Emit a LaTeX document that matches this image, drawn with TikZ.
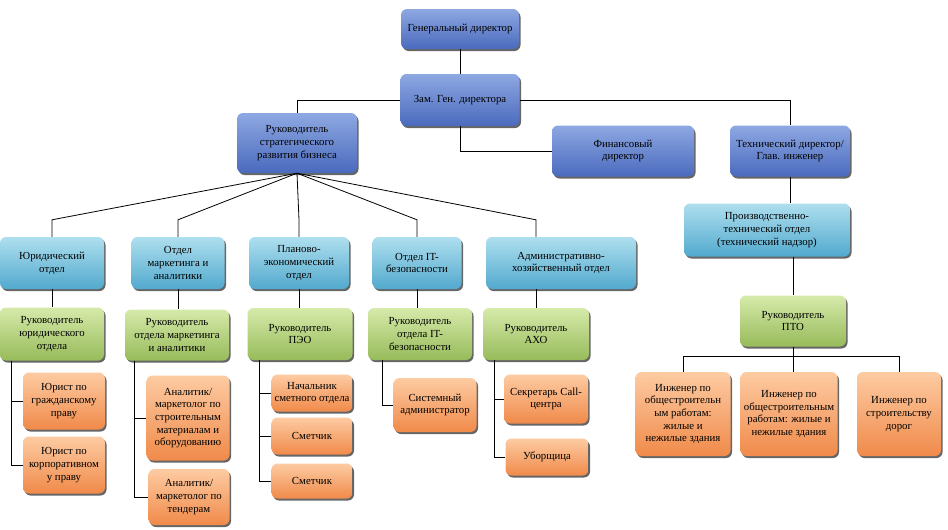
\documentclass[tikz,border=0pt]{standalone}
\usepackage{fontspec}
\setmainfont{Liberation Serif}
\usepackage{tikz}
\usetikzlibrary{shadows}

\definecolor{bluetop}{HTML}{8EA8E2}
\definecolor{bluebot}{HTML}{4A6ABD}
\definecolor{cyantop}{HTML}{AEDFEE}
\definecolor{cyanbot}{HTML}{52A9CE}
\definecolor{greentop}{HTML}{D6EAAA}
\definecolor{greenbot}{HTML}{97BB5A}
\definecolor{orangetop}{HTML}{FDCBA2}
\definecolor{orangebot}{HTML}{F08A4A}

\begin{document}
\begin{tikzpicture}[x=1pt,y=-1pt,
    box/.style={rounded corners=6pt,align=center,inner sep=1pt,
      font=\fontsize{10.8}{12.7}\selectfont,
      drop shadow={shadow xshift=1.5pt,shadow yshift=-2pt,fill=black!75,opacity=0.8}},
    sz/.style 2 args={minimum width=#1pt,minimum height=#2pt},
    lead/.style={box,top color=bluetop,bottom color=bluebot},
    dept/.style={box,top color=cyantop,bottom color=cyanbot},
    head/.style={box,top color=greentop,bottom color=greenbot},
    staff/.style={box,top color=orangetop,bottom color=orangebot},
    wire/.style={draw=black,line width=0.8pt}]
  \useasboundingbox (0,0) rectangle (948,530);

  % top management
  \node[lead,sz={118}{40}] (gen)   at (460,29)    {Генеральный директор};
  \node[lead,sz={119}{52}] (zam)   at (460,100)   {Зам. Ген. директора};
  \node[lead,sz={120}{60}] (strat) at (297,143)   {Руководитель\\стратегического\\развития бизнеса};
  \node[lead,sz={142}{51}] (fin)   at (623,151)   {Финансовый\\директор};
  \node[lead,sz={120}{51}] (tech)  at (790,151)   {Технический директор/\\Глав. инженер};

  % technical branch
  \node[dept,sz={166}{53}] (pto)     at (767,230) {Производственно-\\технический отдел\\(технический надзор)};
  \node[head,sz={106}{51}] (ptohead) at (793,321) {Руководитель\\ПТО};
  \node[staff,sz={95}{84}] (eng1) at (683,414) {Инженер по\\общестроительн\\ым работам:\\жилые и\\нежилые здания};
  \node[staff,sz={97}{84}] (eng2) at (789,414) {Инженер по\\общестроительным\\работам: жилые и\\нежилые здания};
  \node[staff,sz={84}{84}] (eng3) at (899,414) {Инженер по\\строительству\\дорог};

  % departments
  \node[dept,sz={104}{52}] (law) at (52,263)  {Юридический\\отдел};
  \node[dept,sz={93}{52}]  (mkt) at (178,263) {Отдел\\маркетинга и\\аналитики};
  \node[dept,sz={100}{52}] (peo) at (299,263) {Планово-\\экономический\\отдел};
  \node[dept,sz={89}{52}]  (it)  at (417,263) {Отдел IT-\\безопасности};
  \node[dept,sz={150}{52}] (aho) at (561,263) {Административно-\\хозяйственный отдел};

  \node[head,sz={104}{53}] (lawhead) at (52,334)  {Руководитель\\юридического\\отдела};
  \node[head,sz={104}{51}] (mkthead) at (177,335) {Руководитель\\отдела маркетинга\\и аналитики};
  \node[head,sz={105}{52}] (peohead) at (300,334) {Руководитель\\ПЭО};
  \node[head,sz={104}{52}] (ithead)  at (420,334) {Руководитель\\отдела IT-\\безопасности};
  \node[head,sz={106}{52}] (ahohead) at (536,334) {Руководитель\\АХО};

  % staff
  \node[staff,sz={82}{57}] (law1) at (64,401)  {Юрист по\\гражданскому\\праву};
  \node[staff,sz={82}{57}] (law2) at (64,465)  {Юрист по\\корпоративном\\у праву};
  \node[staff,sz={83}{85}] (mkt1) at (188,418) {Аналитик/\\маркетолог по\\строительным\\материалам и\\оборудованию};
  \node[staff,sz={81}{56}] (mkt2) at (189,497) {Аналитик/\\маркетолог по\\тендерам};
  \node[staff,sz={81}{37}] (peo1) at (312,393) {Начальник\\сметного отдела};
  \node[staff,sz={81}{37}] (peo2) at (312,436) {Сметчик};
  \node[staff,sz={81}{35}] (peo3) at (312,481) {Сметчик};
  \node[staff,sz={83}{54}] (it1)  at (435,405) {Системный\\администратор};
  \node[staff,sz={84}{49}] (aho1) at (546,399) {Секретарь Call-\\центра};
  \node[staff,sz={83}{37}] (aho2) at (547,457) {Уборщица};

  % connectors
  \draw[wire] (gen.south) -- (zam.north);
  \draw[wire] (zam.west) -| (strat.north);
  \draw[wire] (zam.east) -| (tech.north);
  \draw[wire] (zam.south) |- (fin.west);
  \draw[wire] (tech.south) -- (tech.south |- pto.north);
  \draw[wire] (ptohead.north |- pto.south) -- (ptohead.north);
  \draw[wire] (ptohead.south) -- ++(0,10) coordinate (ptoj);
  \draw[wire] (eng1.north) |- (ptoj) -| (eng3.north);
  \draw[wire] (ptoj) -- (ptoj |- eng2.north);

  \foreach \d in {law,mkt,peo,it}{
    \draw[wire] (strat.south) -- ([yshift=17pt]\d.north) -- (\d.north);
    \draw[wire] (\d.south) -- (\d.south |- \d head.north);
  }
  \path (ahohead.north |- aho.north) coordinate (ahotop);
  \draw[wire] (strat.south) -- ([yshift=17pt]ahotop) -- (ahotop);
  \draw[wire] (ahohead.north |- aho.south) -- (ahohead.north);

  \foreach \h/\s/\dx in {lawhead/law1/12,lawhead/law2/12,mkthead/mkt1/10,mkthead/mkt2/10,
                        peohead/peo1/12,peohead/peo2/12,peohead/peo3/12,ithead/it1/15,
                        ahohead/aho1/12,ahohead/aho2/12}{
    \draw[wire] ([xshift=\dx pt]\h.south west) |- (\s.west);
  }
\end{tikzpicture}
\end{document}
